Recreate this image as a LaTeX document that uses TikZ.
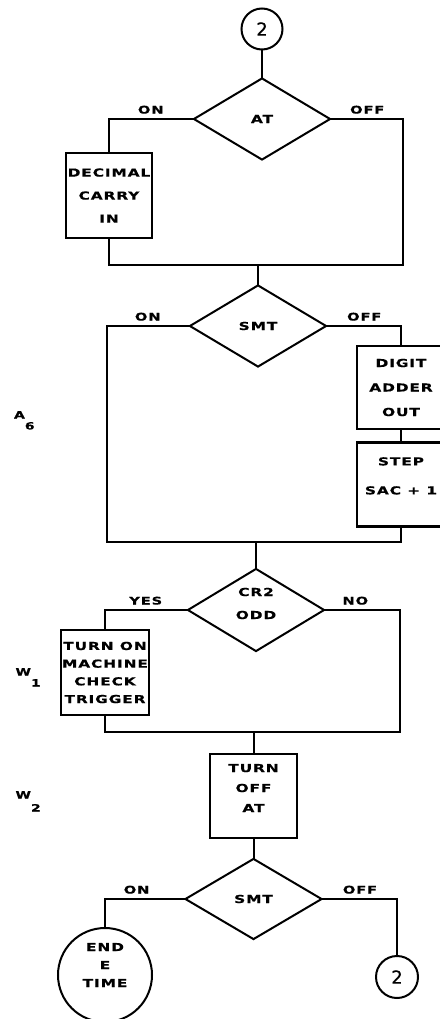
\documentclass[tikz,border=0pt]{standalone}
\usepackage{fontspec}
\usepackage{tikz}
\usetikzlibrary{shapes.geometric,positioning,calc}
\newfontfamily\chartfont[FakeStretch=1.4,LetterSpace=8,FakeBold=0.6]{DejaVu Sans Bold}
\newfontfamily\numfont[FakeBold=0.5]{DejaVu Sans}

\begin{document}
\begin{tikzpicture}[x=1pt,y=-1pt]

\tikzset{
  flowfont/.style={font=\chartfont\fontsize{11}{#1}\selectfont},
  flowline/.style={line width=2pt, line cap=rect},
  decision/.style={diamond, draw, line width=2pt, inner sep=0pt,
                   minimum width=137pt, minimum height=82pt,
                   align=center, flowfont=23},
  procbox/.style={rectangle, draw, line width=2.4pt, inner sep=0pt,
                  minimum width=87pt, minimum height=84pt,
                  align=center, flowfont=23},
  offpage/.style={circle, draw, line width=2pt, inner sep=0pt,
                  minimum size=41pt, font=\numfont\fontsize{18}{18}\selectfont},
  branch/.style={above=1pt, font=\chartfont\fontsize{10.5}{12}\selectfont},
  sidelabel/.style={anchor=base west, font=\chartfont\fontsize{10}{12}\selectfont}
}

\useasboundingbox (0,0) rectangle (439,1019);

% Entry and first test
\node[offpage] (top2) at (262,29) {2};
\node[decision] (at) at (262,119) {AT};
\node[procbox, minimum width=86pt, minimum height=85pt] (carry) at (109,195.5) {DECIMAL\\CARRY\\IN};
\coordinate (join1) at (403,265);

% Second test
\node[decision] (smt) at (258,326) {SMT};
\node[procbox, minimum width=88pt, minimum height=83pt, flowfont=24.5] (digit) at (401,387.5) {DIGIT\\ADDER\\OUT};
\node[procbox, minimum width=88pt, below=11pt of digit,
      label={[flowfont=29, align=center, yshift=8.5pt]center:{STEP\\SAC + 1}}] (step) {};
\coordinate (join2) at (107,542);

% Third test
\node[decision, minimum height=83pt,
      label={[flowfont=23, align=center, yshift=6.5pt]center:{CR2\\ODD}}] (cr2) at (256,610) {};
\node[procbox, minimum width=88pt, minimum height=85pt, flowfont=17.7] (mcheck) at (105,672.5) {TURN ON\\MACHINE\\CHECK\\TRIGGER};
\coordinate (join3) at (400,732);

% Last test
\node[procbox, label={[flowfont=20, align=center, yshift=8pt]center:{TURN\\OFF\\AT}}] (turnoff) at (253.5,796) {};
\node[decision, minimum height=81pt] (smt2) at (253.5,899) {SMT};
\node[offpage, minimum size=94pt,
      label={[flowfont=18, align=center, yshift=10pt]center:{END\\E\\TIME}}] (endtime) at (105,975) {};
\node[offpage, minimum size=42pt] (bot2) at (397,977) {2};

% Side marks
\node[sidelabel] (a6) at (10.5,418.5) {A\raisebox{-11pt}{6}};
\node[sidelabel] (w1) at (12,675.5) {W\raisebox{-11pt}{1}};
\node[sidelabel] (w2) at (12,798.5) {W\raisebox{-13pt}{2}};

% Lines
\draw[flowline] (top2) -- (at);
\draw[flowline] (at.west) -| node[branch, pos=0.25] {ON} (carry.north);
\draw[flowline] (at.east) -| node[branch, pos=0.25] {OFF} (join1);
\draw[flowline] (carry.south) |- (join1);
\draw[flowline] (smt.north) -- (smt.north |- join1);

\draw[flowline] (smt.west) -| node[branch, pos=0.25] {ON} (join2);
\draw[flowline] (smt.east) -| node[branch, pos=0.25] {OFF} (digit.north);
\draw[flowline] (digit) -- (step);
\draw[flowline] (step.south) |- (join2);
\draw[flowline] (cr2.north) -- (cr2.north |- join2);

\draw[flowline] (cr2.west) -| node[branch, pos=0.25] {YES} (mcheck.north);
\draw[flowline] (cr2.east) -| node[branch, pos=0.2] {NO} (join3);
\draw[flowline] (mcheck.south) |- (join3);
\draw[flowline] (turnoff.north) -- (turnoff.north |- join3);

\draw[flowline] (turnoff) -- (smt2);
\draw[flowline] (smt2.west) -| node[branch, pos=0.3] {ON} (endtime.north);
\draw[flowline] (smt2.east) -| node[branch, pos=0.25] {OFF} (bot2.north);

\end{tikzpicture}
\end{document}
